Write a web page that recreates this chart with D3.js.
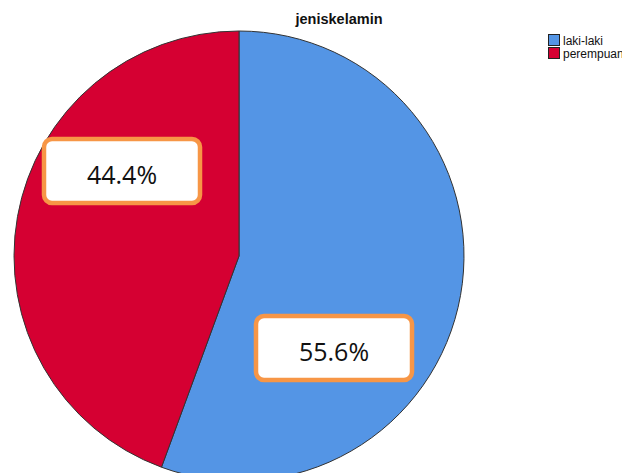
<!DOCTYPE html>
<html><head><meta charset="utf-8">
<script src="https://cdn.jsdelivr.net/npm/d3@7"></script>
<style>body{margin:0;background:#fff}svg{display:block}</style>
</head><body>
<svg id="c" width="622" height="473"></svg>
<script>
const categories = ["laki-laki", "perempuan"];
const values = [55.6, 44.4];
const colors = ["#5495E5", "#D50032"];
const labelText = ["55.6%", "44.4%"];

const svg = d3.select("#c");
const cx = 239, cy = 256, r = 225;

svg.append("text").attr("x", 339).attr("y", 24).attr("text-anchor", "middle")
  .attr("font-family", "Liberation Sans, Arial, sans-serif").attr("font-weight", "bold")
  .attr("font-size", 14.5).attr("fill", "#111").text("jeniskelamin");

const pie = d3.pie().sort(null).value(d => d)(values);
const arc = d3.arc().innerRadius(0).outerRadius(r);
const g = svg.append("g").attr("transform", `translate(${cx},${cy})`);
g.selectAll("path").data(pie).join("path")
  .attr("d", arc).attr("fill", (d, i) => colors[i])
  .attr("stroke", "#333").attr("stroke-width", 1);

// label boxes, placed relative to each slice
const labelPos = [{dx: 95, dy: 92}, {dx: -117, dy: -85}];
const bw = 156, bh = 64;
pie.forEach((d, i) => {
  const p = labelPos[i];
  const lg = g.append("g").attr("transform", `translate(${p.dx},${p.dy})`);
  lg.append("rect").attr("x", -bw/2).attr("y", -bh/2).attr("width", bw).attr("height", bh)
    .attr("rx", 8).attr("fill", "#fff").attr("stroke", "#F79646").attr("stroke-width", 4.5);
  lg.append("text").attr("text-anchor", "middle").attr("dy", "0.38em").attr("y", 3)
    .attr("font-family", "Open Sans, Noto Sans, sans-serif").attr("font-size", 25)
    .attr("fill", "#111").text(labelText[i]);
});

// legend
const leg = svg.append("g").attr("transform", "translate(548,34)");
categories.forEach((c, i) => {
  const row = leg.append("g").attr("transform", `translate(0,${i * 13})`);
  row.append("rect").attr("x", 0.5).attr("y", 0.5).attr("width", 11).attr("height", 11)
    .attr("fill", colors[i]).attr("stroke", "#222").attr("stroke-width", 1);
  row.append("text").attr("x", 15).attr("y", 10.5)
    .attr("font-family", "Liberation Sans, Arial, sans-serif")
    .attr("font-size", 12).attr("fill", "#111").text(c);
});
</script>
</body></html>
